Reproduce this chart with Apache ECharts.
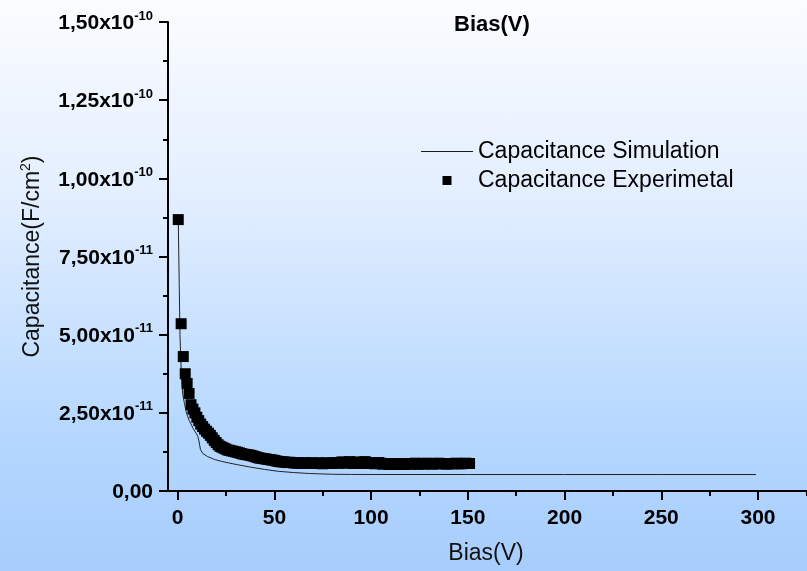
<!DOCTYPE html>
<html>
<head>
<meta charset="utf-8">
<script src="https://cdn.jsdelivr.net/npm/echarts@6/dist/echarts.min.js"></script>
<style>
  html, body { margin: 0; padding: 0; }
  #chart {
    width: 807px; height: 571px;
    background: linear-gradient(to bottom, #fbfcff 0%, #e2eeff 35%, #b6d8ff 75%, #a7cdfc 100%);
  }
</style>
</head>
<body>
<div id="chart"></div>
<script>
// ---- data (capacitance in units of 1e-11 F/cm^2) ----
const simBias = [0.3, 0.8, 1.2, 1.6, 2.1, 2.6, 3.5, 4.5, 6, 8, 9.5, 10.4, 11, 11.8, 13, 15.5, 19, 22.5, 27, 31, 38, 45, 52, 60, 68, 75, 80, 90, 100, 150, 200, 250, 299];
const simCap  = [8.68, 6.6, 5.0, 4.2, 3.5, 3.1, 2.8, 2.5, 2.25, 2.0, 1.85, 1.75, 1.6, 1.32, 1.2, 1.1, 1.01, 0.95, 0.89, 0.84, 0.76, 0.69, 0.63, 0.59, 0.56, 0.545, 0.535, 0.53, 0.528, 0.527, 0.527, 0.527, 0.527];

const expBias = [0.3, 1.8, 2.9, 3.9, 4.9, 5.9, 6.9, 7.9, 8.9, 9.9,
  10.9, 11.9, 12.9, 13.9, 14.9, 15.9, 16.9, 17.9, 18.9, 19.9,
  20.9, 21.9, 22.9, 23.9, 24.9, 25.9, 26.9, 27.9, 28.9, 29.9,
  30.9, 31.9, 32.9, 33.9, 34.9, 35.9, 36.9, 37.9, 38.9, 39.9,
  40.9, 41.9, 42.9, 43.9, 44.9, 45.9, 46.9, 47.9, 48.9, 49.9,
  50.9, 51.9, 52.9, 53.9, 54.9, 55.9, 56.9, 57.9, 58.9, 59.9,
  60.9, 61.9, 62.9, 63.9, 64.9, 65.9, 66.9, 67.9, 68.9, 69.9,
  70.9, 71.9, 72.9, 73.9, 74.9, 75.9, 76.9, 77.9, 78.9, 79.9,
  80.9, 81.9, 82.9, 83.9, 84.9, 85.9, 86.9, 87.9, 88.9, 89.9,
  90.9, 91.9, 92.9, 93.9, 94.9, 95.9, 96.9, 97.9, 98.9, 99.9,
  100.9, 101.9, 102.9, 103.9, 104.9, 105.9, 106.9, 107.9, 108.9, 109.9,
  110.9, 111.9, 112.9, 113.9, 114.9, 115.9, 116.9, 117.9, 118.9, 119.9,
  120.9, 121.9, 122.9, 123.9, 124.9, 125.9, 126.9, 127.9, 128.9, 129.9,
  130.9, 131.9, 132.9, 133.9, 134.9, 135.9, 136.9, 137.9, 138.9, 139.9,
  140.9, 141.9, 142.9, 143.9, 144.9, 145.9, 146.9, 147.9, 148.9, 149.9, 150.9];
const expCap = [8.68, 5.35, 4.30, 3.75, 3.44, 3.12, 2.76, 2.62, 2.50, 2.36,
  2.25, 2.14, 2.06, 1.98, 1.91, 1.85, 1.78, 1.70, 1.62, 1.55,
  1.48, 1.43, 1.40, 1.37, 1.34, 1.31, 1.30, 1.28, 1.27, 1.25,
  1.24, 1.22, 1.20, 1.18, 1.17, 1.16, 1.15, 1.14, 1.12, 1.10,
  1.08, 1.06, 1.05, 1.04, 1.03, 1.02, 1.01, 1.00, 0.99, 0.98,
  0.96, 0.95, 0.94, 0.93, 0.93, 0.92, 0.91, 0.92, 0.91, 0.90,
  0.90, 0.89, 0.90, 0.88, 0.89, 0.90, 0.89, 0.88, 0.90, 0.89,
  0.88, 0.89, 0.90, 0.88, 0.87, 0.89, 0.90, 0.88, 0.89, 0.88,
  0.90, 0.91, 0.89, 0.90, 0.93, 0.92, 0.89, 0.90, 0.94, 0.91,
  0.88, 0.89, 0.93, 0.90, 0.88, 0.92, 0.94, 0.90, 0.88, 0.91,
  0.89, 0.87, 0.88, 0.91, 0.89, 0.86, 0.87, 0.88, 0.86, 0.85,
  0.87, 0.86, 0.88, 0.85, 0.86, 0.87, 0.85, 0.86, 0.88, 0.87,
  0.86, 0.87, 0.89, 0.86, 0.87, 0.88, 0.86, 0.87, 0.89, 0.88,
  0.87, 0.86, 0.88, 0.87, 0.89, 0.88, 0.87, 0.88, 0.86, 0.87,
  0.88, 0.87, 0.88, 0.89, 0.87, 0.88, 0.87, 0.88, 0.89, 0.88, 0.88];

const xMajorTicks = [0, 50, 100, 150, 200, 250, 300];
const xMinorTicks = [25, 75, 125, 175, 225, 275, 325];
const yTickMantissa = ['0,00', '2,50x10', '5,00x10', '7,50x10', '1,00x10', '1,25x10', '1,50x10'];
const yTickExponent = ['', '-11', '-11', '-11', '-10', '-10', '-10'];

const seriesNames = ['Capacitance Simulation', 'Capacitance Experimetal'];
const UNIT = 1e-11;

const FONT = 'Liberation Sans, Arial, sans-serif';
const chart = echarts.init(document.getElementById('chart'), null, { renderer: 'canvas' });

const simData = simBias.map((v, i) => [v, simCap[i] * UNIT]);
const expData = expBias.map((v, i) => [v, expCap[i] * UNIT]);

chart.setOption({
  backgroundColor: 'transparent',
  animation: false,
  textStyle: { fontFamily: FONT },
  title: {
    text: 'Bias(V)',
    left: 454, top: 14, padding: 0,
    textStyle: { fontFamily: FONT, fontSize: 22, fontWeight: 'bold', color: '#000' }
  },
  legend: {
    orient: 'vertical',
    left: 421, top: 140,
    itemWidth: 52, itemHeight: 9, itemGap: 6,
    padding: 0,
    selectedMode: false,
    textStyle: { fontFamily: FONT, fontSize: 23, color: '#000' },
    data: [
      { name: seriesNames[0], icon: 'path://M0,0M52,9M0,4h52v1.1h-52z', itemStyle: { color: '#1a1a1a' } },
      { name: seriesNames[1], icon: 'path://M0,0M52,9M21.5,0h9v9h-9z', itemStyle: { color: '#000' } }
    ]
  },
  grid: { left: 168, right: -9, top: 22, bottom: 80, containLabel: false, outerBoundsMode: 'none' },
  xAxis: [{
    type: 'value', min: -5, max: 330,
    position: 'bottom',
    splitLine: { show: false },
    axisLine: { onZero: false, lineStyle: { color: '#000', width: 2 } },
    axisTick: { customValues: xMajorTicks, length: 9, lineStyle: { color: '#000', width: 2 } },
    axisLabel: {
      customValues: xMajorTicks, margin: 17,
      fontFamily: FONT, fontSize: 21, fontWeight: 'bold', color: '#000'
    },
    name: 'Bias(V)', nameLocation: 'middle', nameGap: 51,
    nameTextStyle: { fontFamily: FONT, fontSize: 23, color: '#111', padding: [0, 12, 0, 0] }
  }, {
    type: 'value', min: -5, max: 330,
    position: 'bottom',
    splitLine: { show: false },
    axisLine: { show: false, onZero: false },
    axisTick: { customValues: xMinorTicks, length: 5, lineStyle: { color: '#000', width: 2 } },
    axisLabel: { show: false }
  }],
  yAxis: {
    type: 'value', min: 0, max: 1.5e-10, interval: 0.25e-10,
    splitLine: { show: false },
    axisLine: { onZero: false, lineStyle: { color: '#000', width: 2 } },
    axisTick: { length: 9, lineStyle: { color: '#000', width: 2 } },
    minorTick: { show: true, splitNumber: 2, length: 5, lineStyle: { color: '#000', width: 2 } },
    axisLabel: {
      margin: 15,
      formatter: function (value, index) {
        const e = yTickExponent[index];
        return e ? '{m|' + yTickMantissa[index] + '}{e|' + e + '}' : '{m|' + yTickMantissa[index] + '}';
      },
      rich: {
        m: { fontFamily: FONT, fontSize: 21, fontWeight: 'bold', color: '#000', padding: [3, 0, 0, 0] },
        e: { fontFamily: FONT, fontSize: 13, fontWeight: 'bold', color: '#000', padding: [0, 0, 12, 0] }
      }
    },
    name: 'Capacitance(F/cm{sup|2})',
    nameLocation: 'middle', nameGap: 122,
    nameTextStyle: {
      fontFamily: FONT, fontSize: 23, color: '#111',
      rich: { sup: { fontFamily: FONT, fontSize: 14, color: '#111', padding: [0, 0, 13, 0] } }
    }
  },
  series: [{
    name: seriesNames[0],
    type: 'line',
    xAxisIndex: 0,
    data: simData,
    symbol: 'none',
    smooth: false,
    lineStyle: { color: '#222', width: 1 },
    itemStyle: { color: '#222' },
    z: 2
  }, {
    name: seriesNames[1],
    type: 'scatter',
    xAxisIndex: 0,
    data: expData,
    symbol: 'rect',
    symbolSize: 11,
    itemStyle: { color: '#000', opacity: 1 },
    z: 3
  }]
});
</script>
</body>
</html>
